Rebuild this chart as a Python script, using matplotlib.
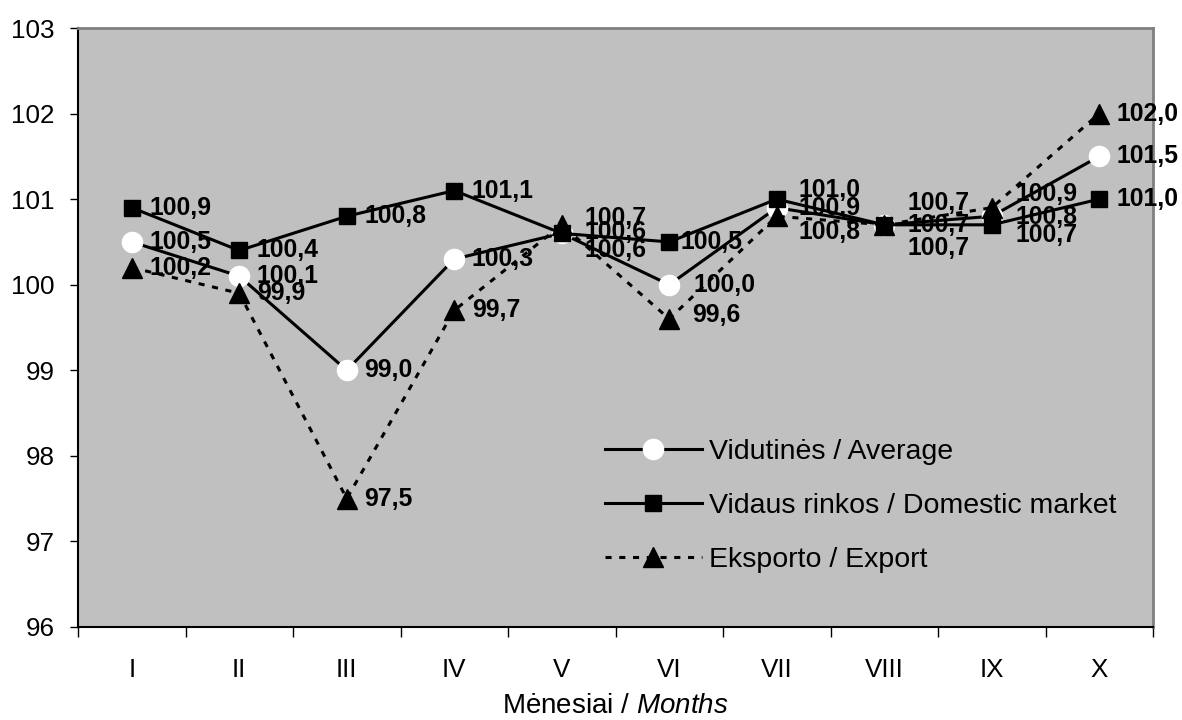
import matplotlib
matplotlib.use("Agg")
import matplotlib.pyplot as plt

plt.rcParams['font.family'] = ['Liberation Sans', 'DejaVu Sans']
plt.rcParams['mathtext.fontset'] = 'custom'
plt.rcParams['mathtext.rm'] = 'Liberation Sans'
plt.rcParams['mathtext.it'] = 'Liberation Sans:italic'

months = ["I", "II", "III", "IV", "V", "VI", "VII", "VIII", "IX", "X"]
average = [100.5, 100.1, 99.0, 100.3, 100.6, 100.0, 100.9, 100.7, 100.8, 101.5]
domestic = [100.9, 100.4, 100.8, 101.1, 100.6, 100.5, 101.0, 100.7, 100.7, 101.0]
export = [100.2, 99.9, 97.5, 99.7, 100.7, 99.6, 100.8, 100.7, 100.9, 102.0]

names = ["Vidutinės / Average", "Vidaus rinkos / Domestic market", "Eksporto / Export"]

# label nudges in pixels (dx from point, dy downward) where labels crowd
nudge = {
    ("avg", 4): (23, 17), ("dom", 4): (23, -1), ("exp", 4): (23, -7),
    ("avg", 5): (24, 0), ("dom", 5): (11, 0), ("exp", 5): (23, -4),
    ("avg", 6): (22, 0), ("dom", 6): (22, -9), ("exp", 6): (22, 16),
    ("avg", 7): (23, 0), ("dom", 7): (23, 23), ("exp", 7): (23, -22),
    ("avg", 8): (24, 1), ("dom", 8): (24, 10), ("exp", 8): (24, -14),
}

fig = plt.figure(figsize=(11.82, 7.2), dpi=100)
ax = fig.add_axes([78/1182, 1-627/720, (1153-78)/1182, (627-28)/720])
ax.set_facecolor("#C0C0C0")

x = [i + 0.5 for i in range(len(months))]

ax.plot(x, average, color="black", lw=2.2, marker="o", ms=14.5,
        mfc="white", mec="white", label=names[0], zorder=3)
ax.plot(x, domestic, color="black", lw=2.2, marker="s", ms=12,
        mfc="black", mec="black", label=names[1], zorder=4)
ax.plot(x, export, color="black", lw=2.2, ls=(0, (2, 2.5)), marker="^", ms=14,
        mfc="black", mec="black", label=names[2], zorder=5)

for key, series in (("avg", average), ("dom", domestic), ("exp", export)):
    for i, (xi, v) in enumerate(zip(x, series)):
        dx, dy = nudge.get((key, i), (17.5, 0))
        ax.annotate("{:.1f}".format(v).replace(".", ","), (xi, v),
                    xytext=(dx * 0.72, -dy * 0.72), textcoords="offset points",
                    ha="left", va="center", fontsize=17.8, fontweight="bold",
                    zorder=6, annotation_clip=False)

ax.set_xlim(0, 10)
ax.set_ylim(96, 103)
ax.set_yticks(range(96, 104))
ax.tick_params(axis="y", direction="out", length=6, width=1, labelsize=18.7, pad=11)

ax.set_xticks(range(0, 11))
ax.set_xticklabels([])
ax.tick_params(axis="x", which="major", direction="out", length=7, width=1)
ax.set_xticks(x, minor=True)
ax.set_xticklabels(months, minor=True)
ax.tick_params(axis="x", which="minor", length=0, labelsize=18.7, pad=22)

ax.set_xlabel("Mėnesiai / $\\mathit{Months}$", fontsize=20, labelpad=8)

for s in ("left", "bottom"):
    ax.spines[s].set_color("black")
    ax.spines[s].set_linewidth(1.5)
for s in ("top", "right"):
    ax.spines[s].set_color("#808080")
    ax.spines[s].set_linewidth(2)

ax.legend(loc="upper left", bbox_to_anchor=(605/1182, 1-439/720),
          bbox_transform=fig.transFigure, frameon=False, fontsize=20.5,
          handlelength=3.4, handletextpad=0.25, labelspacing=0.98,
          borderpad=0, borderaxespad=0, numpoints=1)

fig.savefig("out.png", dpi=100)
